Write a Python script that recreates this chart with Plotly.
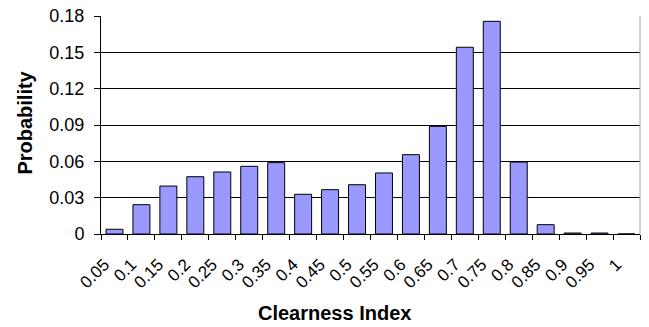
import plotly.graph_objects as go

categories = ["0.05", "0.1", "0.15", "0.2", "0.25", "0.3", "0.35", "0.4", "0.45", "0.5",
              "0.55", "0.6", "0.65", "0.7", "0.75", "0.8", "0.85", "0.9", "0.95", "1"]
probability = [0.0039, 0.0242, 0.0396, 0.0473, 0.0512, 0.0559, 0.0589, 0.0328, 0.0366, 0.0407,
               0.0504, 0.0655, 0.0889, 0.1542, 0.1756, 0.0594, 0.0077, 0.0008, 0.0008, 0.0]
y_ticks = [0, 0.03, 0.06, 0.09, 0.12, 0.15, 0.18]
y_tick_labels = ["0", "0.03", "0.06", "0.09", "0.12", "0.15", "0.18"]

font_family = "Liberation Sans, Arial, sans-serif"

fig = go.Figure()
fig.add_trace(go.Bar(
    x=categories, y=probability,
    marker=dict(color="#9999FF", line=dict(color="black", width=1)),
    width=0.63,
))

fig.update_layout(
    width=649, height=327,
    margin=dict(l=101, r=9, t=16, b=93),
    paper_bgcolor="white", plot_bgcolor="white",
    font=dict(family=font_family, size=14, color="black"),
    showlegend=False,
)
fig.update_xaxes(
    type="category",
    tickangle=-45,
    tickson="boundaries",
    ticks="outside", ticklen=5, tickcolor="black",
    showline=True, linecolor="black", linewidth=1,
    showgrid=False,
    automargin=False,
    tickfont=dict(size=17, family=font_family),
    ticklabelstandoff=13,
    ticklabelshift=-10,
)
fig.update_yaxes(
    range=[0, 0.18],
    tickvals=y_ticks, ticktext=y_tick_labels,
    ticks="outside", ticklen=6, tickcolor="black",
    showline=True, linecolor="black", linewidth=1,
    showgrid=True, gridcolor="black", gridwidth=1,
    zeroline=False,
    automargin=False,
    tickfont=dict(size=18, family=font_family),
    ticklabelstandoff=6,
)
fig.add_shape(type="line", xref="paper", yref="paper", x0=1, x1=1, y0=0, y1=1,
              line=dict(color="#A0A0A0", width=1))

fig.add_annotation(text="<b>Clearness Index</b>", xref="paper", yref="paper",
                   x=0.433, y=-0.362, xanchor="center", yanchor="middle",
                   showarrow=False, font=dict(size=20, family=font_family))
fig.add_annotation(text="<b>Probability</b>", xref="paper", yref="paper",
                   x=-0.141, y=0.511, xanchor="center", yanchor="middle", textangle=-90,
                   showarrow=False, font=dict(size=20, family=font_family))

fig.write_html("out.html", config={"displayModeBar": False},
               post_script="document.body.style.margin='0';")
